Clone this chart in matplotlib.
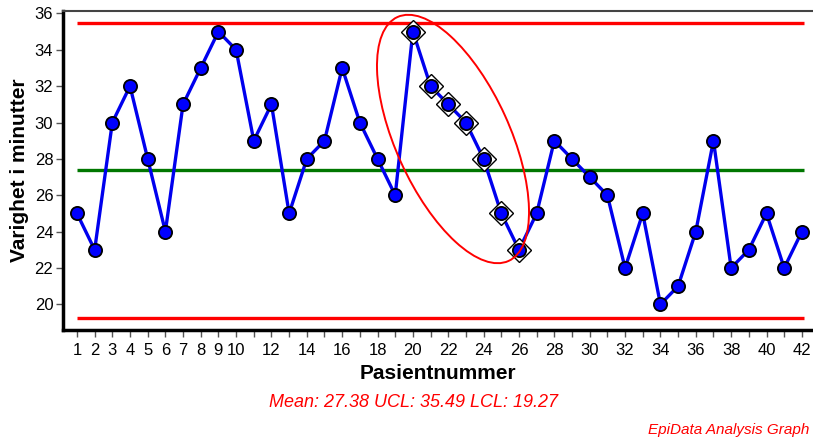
import numpy as np
import matplotlib
matplotlib.use("Agg")
import matplotlib.pyplot as plt
from matplotlib.patches import Ellipse
from matplotlib.transforms import IdentityTransform

plt.rcParams['font.family'] = ['Liberation Sans', 'DejaVu Sans']

##
#    Data
##
patients = np.arange(1, 43)
minutes = [25, 23, 30, 32, 28, 24, 31, 33, 35, 34, 29, 31, 25, 28, 29, 33, 30,
           28, 26, 35, 32, 31, 30, 28, 25, 23, 25, 29, 28, 27, 26, 22, 25, 20,
           21, 24, 29, 22, 23, 25, 22, 24]
flagged = [20, 21, 22, 23, 24, 25, 26]      # run of points marked with diamonds
mean_val = 27.38
ucl = 35.49
lcl = 19.27
tick_pos = list(range(1, 11)) + list(range(12, 43, 2))

fig = plt.figure(figsize=(8.13, 4.41), dpi=100)
ax = fig.add_axes([0.0775, 0.2517, 0.9225, 0.7233])

##
#    Control limits and mean
##
ax.hlines([ucl, lcl], 1, 42.1, colors='#ff0000', linewidth=2.4, zorder=2)
ax.hlines(mean_val, 1, 42.1, colors='#007700', linewidth=2.4, zorder=2)

##
#    The series
##
ax.plot(patients, minutes, color='#0000ee', linewidth=2.4, zorder=3)
fy = [minutes[p - 1] for p in flagged]
ax.plot(flagged, fy, linestyle='none', marker='D', markersize=12,
        markerfacecolor='white', markeredgecolor='black', markeredgewidth=1.0, zorder=4)
ax.plot(patients, minutes, linestyle='none', marker='o', markersize=9.5,
        markerfacecolor='#0000ff', markeredgecolor='black', markeredgewidth=1.3, zorder=5)

##
#    Axes look
##
ax.set_xlim(0.21, 42.63)
ax.set_ylim(18.59, 36.13)
ax.set_xticks(tick_pos)
ax.set_xticks(patients, minor=True)
ax.set_yticks(range(20, 37, 2))
ax.tick_params(axis='both', which='both', direction='out', color='#555555',
               labelsize=12, length=5, width=1)
ax.tick_params(axis='x', which='major', pad=4)
ax.tick_params(axis='y', which='major', pad=2)
ax.spines['right'].set_visible(False)
ax.spines['top'].set_color('#444444')
ax.spines['top'].set_linewidth(1.5)
ax.spines['left'].set_linewidth(2.5)
ax.spines['bottom'].set_linewidth(2.5)
ax.set_xlabel('Pasientnummer', fontsize=15, fontweight='bold', labelpad=5)
ax.set_ylabel('Varighet i minutter', fontsize=15, fontweight='bold', labelpad=4)

fig.text(0.509, 0.088, f'Mean: {mean_val:.2f} UCL: {ucl:.2f} LCL: {lcl:.2f}',
         color='#ff0000', fontsize=13, fontstyle='italic', ha='center', va='center')
fig.text(0.995, 0.025, 'EpiData Analysis Graph', color='#ff0000', fontsize=11,
         fontstyle='italic', ha='right', va='center')

##
#    Ellipse round the flagged run, drawn in pixel space
##
fig.canvas.draw()
cx, cy = 453, 441 - 139
ell = Ellipse((cx, cy), width=268, height=114, angle=-65.5, fill=False,
              edgecolor='#ff0000', linewidth=1.4, transform=IdentityTransform(), zorder=6)
fig.patches.append(ell)

fig.savefig('out.png', dpi=100)
